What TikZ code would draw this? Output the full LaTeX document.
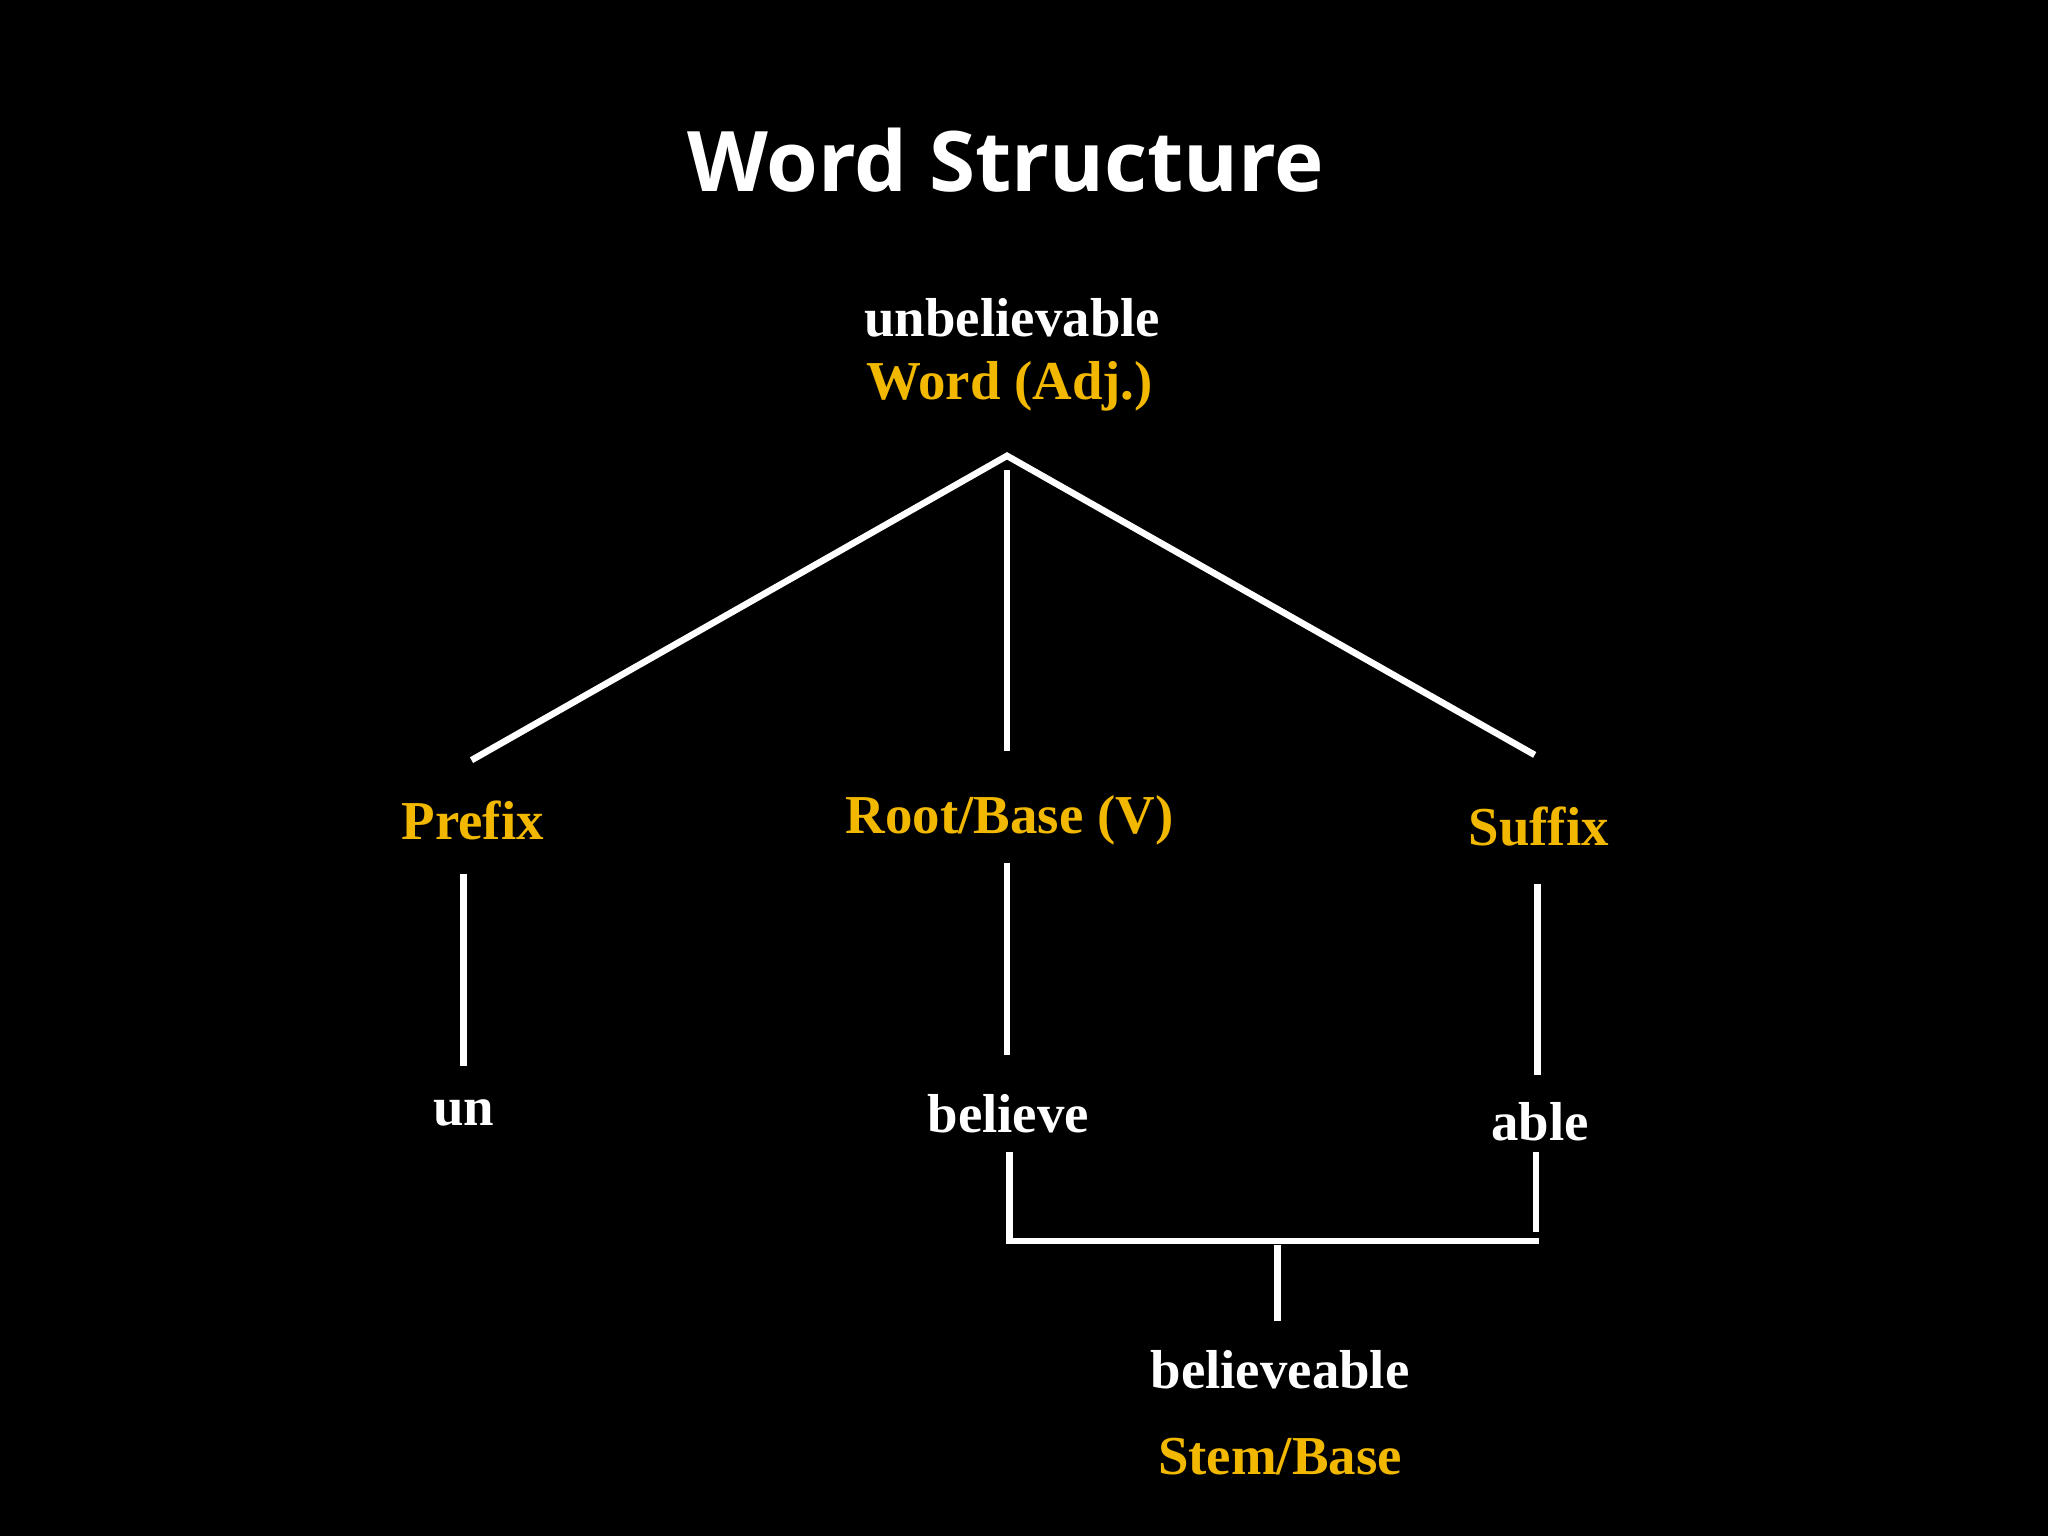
\documentclass[tikz,border=0pt]{standalone}
\usepackage{fontspec}
\setmainfont{Liberation Serif}
\newfontfamily\titlefont{Open Sans}
\definecolor{gold}{HTML}{F2B800}
\begin{document}
\begin{tikzpicture}[x=0.5pt,y=-0.5pt,
  wtxt/.style={text=white,font=\bfseries\fontsize{21}{24}\selectfont,inner sep=0pt},
  ytxt/.style={text=gold,font=\bfseries\fontsize{21}{24}\selectfont,inner sep=0pt},
  ln/.style={draw=white,line width=2.5pt}]
\fill[black] (0,0) rectangle (1568,1176);
\useasboundingbox (0,0) rectangle (1568,1176);
\node[text=white,font=\titlefont\bfseries\fontsize{32}{36}\selectfont] (title) at (770,123) {Word Structure};
\node[wtxt] (unb) at (775,243) {unbelievable};
\node[ytxt] (word) at (773,296) {Word (Adj.)};
\node[ytxt] (pre) at (362,628) {Prefix};
\node[ytxt] (root) at (773,628) {Root/Base (V)};
\node[ytxt] (suf) at (1178,633) {Suffix};
\node[wtxt] (un) at (355,852) {un};
\node[wtxt] (bel) at (772,853) {believe};
\node[wtxt] (able) at (1179,859) {able};
\node[wtxt] (bable) at (980,1049) {believeable};
\node[ytxt] (stem) at (980,1115) {Stem/Base};
\coordinate (apex) at (771,349);
\coordinate (pl) at (361,582);
\coordinate (rl) at (1175,578);
\coordinate (ct) at (771,360); \coordinate (cb) at (771,575);
\draw[ln] (pl) -- (apex) -- (rl);
\draw[ln] (ct) -- (cb);
\draw[ln] (355,669) -- (355,816);
\draw[ln] (771,661) -- (771,808);
\draw[ln] (1177,677) -- (1177,823);
\draw[ln] (773,882) -- (773,950) -- (1178,950);
\draw[ln] (1176,882) -- (1176,943);
\draw[ln] (978,953) -- (978,1011);
\end{tikzpicture}
\end{document}
